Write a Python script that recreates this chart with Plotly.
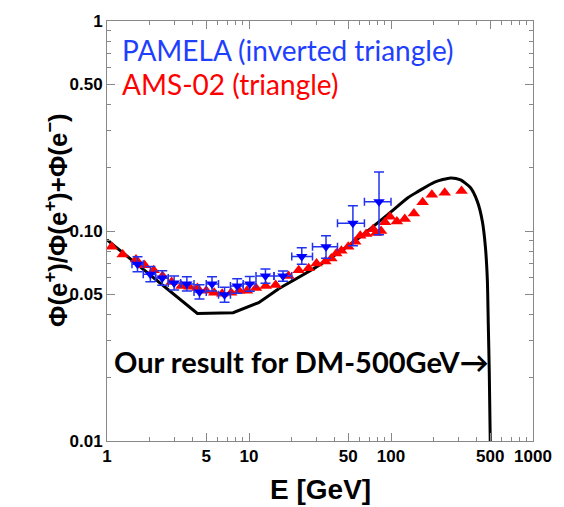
import plotly.graph_objects as go

# PAMELA positron fraction (bin centres, bin edges, values, errors)
pamela_E = [1.64, 2.02, 2.45, 2.97, 3.65, 4.48, 5.49, 6.73, 8.26, 10.13,
            13.06, 17.35, 23.53, 34.86, 53.92, 82.34]
pamela_lo = [1.5, 1.8, 2.2, 2.7, 3.3, 4.1, 5.0, 6.1, 7.4, 9.1, 11.2, 15, 20, 28, 42, 65]
pamela_hi = [1.8, 2.2, 2.7, 3.3, 4.1, 5.0, 6.1, 7.4, 9.1, 11.2, 15, 20, 28, 42, 65, 100]
pamela_frac = [0.0694, 0.0623, 0.0597, 0.0565, 0.0560, 0.0513, 0.0560, 0.0497,
               0.0547, 0.0560, 0.0610, 0.0610, 0.0756, 0.0842, 0.109, 0.138]
pamela_err_up = [0.0060, 0.0055, 0.0050, 0.0045, 0.0045, 0.0042, 0.0045, 0.0042,
                 0.0045, 0.0048, 0.0050, 0.0035, 0.0077, 0.0106, 0.023, 0.053]
pamela_err_dn = [0.0055, 0.0050, 0.0046, 0.0042, 0.0042, 0.0039, 0.0042, 0.0039,
                 0.0042, 0.0044, 0.0046, 0.0033, 0.0062, 0.0101, 0.024, 0.042]

# AMS-02 positron fraction
ams_E = [1.08, 1.29, 1.60, 1.84, 2.13, 2.46, 2.85, 3.35, 3.80, 4.33, 5.00, 5.69,
         6.47, 7.48, 8.51, 9.68, 11.2, 13.1, 15.4, 19.0, 22.4, 26.3, 29.9, 34.5,
         38.0, 41.2, 44.7, 50.0, 56.0, 60.7, 66.8, 74.8, 78.5, 85.1, 90.8, 98.4,
         110, 125, 145, 167, 194, 239, 314]
ams_frac = [0.0842, 0.0773, 0.0732, 0.0686, 0.0650, 0.0610, 0.0571, 0.0547, 0.0542,
            0.0536, 0.0519, 0.0508, 0.0502, 0.0508, 0.0519, 0.0519, 0.0536, 0.0547,
            0.0553, 0.0610, 0.0650, 0.0664, 0.0701, 0.0716, 0.0740, 0.0781, 0.0806,
            0.0842, 0.0889, 0.0948, 0.0968, 0.102, 0.0979, 0.100, 0.110, 0.117,
            0.111, 0.114, 0.121, 0.137, 0.149, 0.152, 0.155]

# Model prediction for 500 GeV dark matter
model_E = [1.0, 4.33, 7.73, 11.7, 16.2, 30.0, 56.0, 95.3, 131.5, 154.5, 203, 263,
           309, 362, 406, 440, 462, 477, 484, 492, 500]
model_frac = [0.0908, 0.0405, 0.0408, 0.0456, 0.0531, 0.0675, 0.0898, 0.120, 0.144,
              0.154, 0.171, 0.179, 0.175, 0.161, 0.138, 0.111, 0.0842, 0.0584,
              0.0367, 0.0215, 0.01]
# index where the smooth (curved) part of the model begins
model_smooth_start = 4

x_tickvals = [1, 5, 10, 50, 100, 500, 1000]
x_ticktext = ["1", "5", "10", "50", "100", "500", "1000"]
y_tickvals = [0.01, 0.05, 0.1, 0.5, 1]
y_ticktext = ["0.01", "0.05", "0.10", "0.50", "1"]

fig = go.Figure()

# piecewise-linear low-energy part of the model
fig.add_trace(go.Scatter(
    x=model_E[:model_smooth_start + 1], y=model_frac[:model_smooth_start + 1],
    mode="lines", line=dict(color="black", width=3), showlegend=False))
# smooth high-energy hump and cut-off
fig.add_trace(go.Scatter(
    x=model_E[model_smooth_start:], y=model_frac[model_smooth_start:],
    mode="lines", line=dict(color="black", width=3, shape="spline", smoothing=0.6),
    showlegend=False))

fig.add_trace(go.Scatter(
    x=ams_E, y=ams_frac, mode="markers",
    marker=dict(symbol="triangle-up", color="red", size=11),
    showlegend=False))

fig.add_trace(go.Scatter(
    x=pamela_E, y=pamela_frac, mode="markers",
    marker=dict(symbol="triangle-down", color="blue", size=10),
    error_y=dict(type="data", array=pamela_err_up, arrayminus=pamela_err_dn,
                 color="#2233ee", thickness=1.5, width=5),
    error_x=dict(type="data",
                 array=[h - c for h, c in zip(pamela_hi, pamela_E)],
                 arrayminus=[c - l for c, l in zip(pamela_E, pamela_lo)],
                 color="#2233ee", thickness=1.5, width=4),
    showlegend=False))

axis_common = dict(
    type="log", showline=True, linecolor="#888888", linewidth=1, mirror="allticks",
    ticks="inside", ticklen=8, tickcolor="#888888", showgrid=False, zeroline=False,
    tickfont=dict(family="Liberation Sans", size=17, color="black", weight="bold"),
    minor=dict(ticks="inside", ticklen=4, tickcolor="#888888", dtick="D1", showgrid=False),
)

fig.update_xaxes(range=[0, 3], tickvals=x_tickvals, ticktext=x_ticktext, **axis_common)
fig.update_yaxes(range=[-2, 0], tickvals=y_tickvals, ticktext=y_ticktext, **axis_common)

fig.add_annotation(
    text="PAMELA (inverted triangle)", xref="paper", yref="paper",
    x=0.030, y=0.930, xanchor="left", yanchor="middle", showarrow=False,
    font=dict(family="Lato", size=28, color="#1f3fff"))
fig.add_annotation(
    text="AMS-02 (triangle)", xref="paper", yref="paper",
    x=0.030, y=0.850, xanchor="left", yanchor="middle", showarrow=False,
    font=dict(family="Lato", size=28, color="#ff0000"))
fig.add_annotation(
    text="Our result for DM-500GeV→", xref="paper", yref="paper",
    x=0.012, y=0.190, xanchor="left", yanchor="middle", showarrow=False,
    font=dict(family="Lato", size=29, color="black", weight="bold"))

fig.add_annotation(
    text="E [GeV]", xref="paper", yref="paper", x=0.501, y=-0.1145,
    xanchor="center", yanchor="middle", showarrow=False,
    font=dict(family="Liberation Sans", size=28, color="black", weight="bold"))
fig.add_annotation(
    text="Φ(e<sup>+</sup>)/Φ(e<sup>+</sup>)+Φ(e<sup>−</sup>)",
    xref="paper", yref="paper", x=-0.12, y=0.526, textangle=-90,
    xanchor="center", yanchor="middle", showarrow=False,
    font=dict(family="Liberation Sans", size=26, color="black", weight="bold"))

fig.update_layout(
    width=564, height=507,
    margin=dict(l=107, r=28, t=13, b=66),
    paper_bgcolor="white", plot_bgcolor="white",
)

fig.write_html("out.html")
